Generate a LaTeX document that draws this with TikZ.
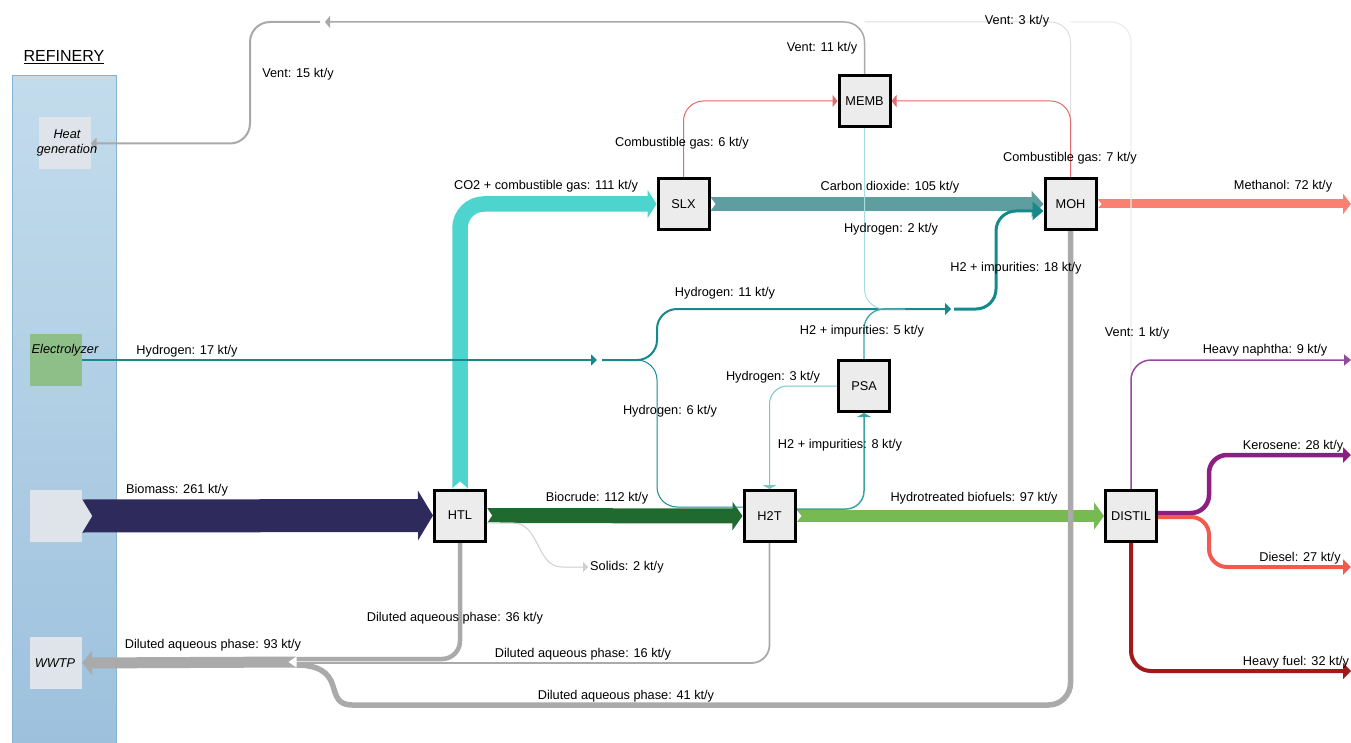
\documentclass[tikz,border=0pt]{standalone}
\usepackage{fontspec}
\setmainfont{Liberation Sans}
\usetikzlibrary{arrows.meta,calc}
\definecolor{refTop}{HTML}{C3DCEC}
\definecolor{refBot}{HTML}{9DC1DD}
\definecolor{refBorder}{HTML}{86B2D2}
\definecolor{boxGray}{HTML}{DEE4E9}
\definecolor{elecGreen}{HTML}{8FBF88}
\definecolor{procFill}{HTML}{ECECEC}
\definecolor{bioC}{HTML}{2E2A5C}
\definecolor{cyanC}{HTML}{4ED4CF}
\definecolor{co2C}{HTML}{5F9EA0}
\definecolor{methC}{HTML}{FA8072}
\definecolor{crudeC}{HTML}{216A2F}
\definecolor{htC}{HTML}{77BA52}
\definecolor{tealC}{HTML}{168A8A}
\definecolor{tealMid}{HTML}{3AA5A5}
\definecolor{tealLight}{HTML}{78C6C6}
\definecolor{cyanLight}{HTML}{A6DEE0}
\definecolor{aqC}{HTML}{AAAAAA}
\definecolor{ventC}{HTML}{A9A9A9}
\definecolor{ventLight}{HTML}{DDDDDD}
\definecolor{ventFaint}{HTML}{EDEDED}
\definecolor{combC}{HTML}{E36B6B}
\definecolor{naphC}{HTML}{934A9E}
\definecolor{keroC}{HTML}{8E1E80}
\definecolor{diesC}{HTML}{F25A50}
\definecolor{fuelC}{HTML}{A31818}
\definecolor{solC}{HTML}{CFCFCF}
\pgfdeclarelayer{back}
\pgfdeclarelayer{flows}
\pgfsetlayers{back,flows,main}
\begin{document}
\begin{tikzpicture}[x=1pt,y=-1pt,
  every node/.style={font=\fontsize{12.75}{15}\selectfont, text=black},
  procbox/.style={draw=black, line width=3pt, fill=procFill, minimum size=51pt, inner sep=0pt},
  unitbox/.style={fill=boxGray, minimum size=52pt, inner sep=0pt},
  itl/.style={font=\fontsize{12.75}{15}\selectfont\itshape, inner sep=0pt, align=center},
  lbl/.style={inner sep=0pt},
  thinflow/.style={line cap=butt, rounded corners=20pt},
]
\useasboundingbox (0,0) rectangle (1351,743);
\begin{pgfonlayer}{back}
\fill[white] (0,0) rectangle (1351,743);
\node[draw=refBorder, line width=0.8pt, top color=refTop, bottom color=refBot, minimum width=104pt, minimum height=670pt, inner sep=0pt, anchor=north west] (refinery) at (12,75) {};
\end{pgfonlayer}

% refinery units
\node[font=\fontsize{16}{18}\selectfont] (reftitle) at (64,57) {\underline{REFINERY}};
\node[unitbox] (heat) at (64.5,143.5) {};
\node[itl] (heattxt) at (67,142.5) {Heat\\generation};
\node[unitbox, fill=elecGreen] (elec) at (56,360) {};
\node[itl] (electxt) at (65,350) {Electrolyzer};
\node[unitbox] (bio) at (56,516) {};
\node[unitbox] (wwtp) at (56,663) {};
\node[itl] (wwtptxt) at (55,663) {WWTP};

% process units
\node[procbox] (memb) at (864.5,101) {MEMB};
\node[procbox] (slx) at (683.5,204) {SLX};
\node[procbox] (moh) at (1070.5,204) {MOH};
\node[procbox] (psa) at (864,386) {PSA};
\node[procbox] (htl) at (460,515.5) {HTL};
\node[procbox] (h2t) at (769.5,516) {H2T};
\node[procbox] (distil) at (1131,516) {DISTIL};

% free ends
\coordinate (methend) at (1351,204);
\coordinate (h17end) at (597,360);
\coordinate (hsplit) at (602,360);
\coordinate (h11end) at (951,309);
\coordinate (h18start) at (954,309);
\coordinate (hmerge) at (905,309);
\coordinate (vtip) at (325,22);
\coordinate (vrest) at (320,22);
\coordinate (wwin) at (296,662);
\coordinate (solend) at (588,567);
\coordinate (naphend) at (1351,360);
\coordinate (keroend) at (1351,455);
\coordinate (diesend) at (1351,567);
\coordinate (fuelend) at (1351,671);

\begin{pgfonlayer}{flows}
% thick flows
\draw[bioC, line width=33pt, -{Triangle[length=15pt,width=49pt]}] (bio.east) -- (htl.west);
\fill[boxGray] (bio.east) ++(0,-16.5) -- ++(10,16.5) -- ++(-10,16.5) -- cycle;
\draw[cyanC, line width=15.5pt, rounded corners=24pt, -{Triangle[length=9pt,width=28pt]}] (htl.north) |- (slx.west);
\fill[white] (htl.north) ++(-7.75,0) -- ++(7.75,-7) -- ++(7.75,7) -- cycle;
\draw[co2C, line width=13.5pt, -{Triangle[length=12pt,width=26pt]}] (slx.east) -- (moh.west);
\fill[white] (slx.east) ++(0,-6.75) -- ++(5,6.75) -- ++(-5,6.75) -- cycle;
\draw[methC, line width=9pt, -{Triangle[length=8pt,width=20pt]}] (moh.east) -- (methend);
\fill[white] (moh.east) ++(0,-4.5) -- ++(4,4.5) -- ++(-4,4.5) -- cycle;
\draw[crudeC, line width=15pt, -{Triangle[length=10pt,width=28pt]}] (htl.east) -- (h2t.west);
\fill[white] (htl.east) ++(0,-7.5) -- ++(5,7.5) -- ++(-5,7.5) -- cycle;
\draw[htC, line width=12pt, -{Triangle[length=10pt,width=27pt]}] (h2t.east) -- (distil.west);
\fill[white] (h2t.east) ++(0,-6) -- ++(5,6) -- ++(-5,6) -- cycle;

% aqueous phase
\draw[aqC, line width=4.5pt, rounded corners=18pt] (htl.south) |- ([yshift=3pt]wwin);
\draw[aqC, line width=1.8pt, rounded corners=18pt] (h2t.south) |- ([yshift=-1pt]wwin);
\draw[aqC, line width=5.5pt, rounded corners=22pt] (moh.south) |- (352,705);
\draw[aqC, line width=5.5pt] (352,705) .. controls (338,705) and (336,696) .. (333,686) .. controls (329,672) and (318,665) .. ([yshift=-3pt]wwin);
\draw[aqC, line width=11pt, -{Triangle[length=10pt,width=24pt]}] (wwin) -- (wwtp.east);
\fill[white] (wwin) ++(0.5,-5.5) -- ++(-8,5.5) -- ++(8,5.5) -- cycle;

% solids
\draw[solC, line width=1pt, -{Triangle[length=5pt,width=10pt]}] ([yshift=-7pt]htl.east) -- (513,523) .. controls (540,523) and (536,567) .. (562,567) -- (solend);

% hydrogen network
\draw[tealC, line width=2pt, -{Triangle[length=6pt,width=11pt]}] (elec.east) -- (h17end);
\draw[tealC, line width=2pt, thinflow, -{Triangle[length=6pt,width=12pt]}] (hsplit) -| (657,309) -- (h11end);
\draw[tealC, line width=1pt, thinflow] (hsplit) -| (657,507) -- ([yshift=9pt]h2t.west);
\draw[tealC, line width=3pt, thinflow, -{Triangle[length=11pt,width=18pt]}] (h18start) -| (996,211) -- ([yshift=-7pt]moh.west);
\draw[cyanLight, line width=1pt, thinflow] (memb.south) |- (hmerge);
\draw[tealMid, line width=1.3pt, thinflow] (psa.north) |- (hmerge);
\draw[tealLight, line width=1pt, rounded corners=18pt, -{Triangle[length=4pt,width=14pt]}] (psa.west) -| (h2t.north);
\draw[tealMid, line width=1.5pt, rounded corners=18pt, -{Triangle[length=4pt,width=14pt]}] ([yshift=7pt]h2t.east) -| (psa.south);

% vents
\draw[ventFaint, line width=1.2pt, thinflow] (distil.north) |- (moh.north |- vtip);
\draw[ventLight, line width=1pt, thinflow] (moh.north) |- (memb.north |- vtip);
\draw[ventC, line width=1.5pt, thinflow, -{Triangle[length=5pt,width=12pt]}] (memb.north) |- (vtip);
\draw[ventC, line width=2pt, thinflow, -{Triangle[length=6pt,width=12pt]}] (vrest) -| (250,143.5) -- (heat.east);

% combustible gas
\draw[combC, line width=1pt, thinflow, -{Triangle[length=5pt,width=12pt]}] (slx.north) |- (memb.west);
\draw[combC, line width=1pt, thinflow, -{Triangle[length=5pt,width=12pt]}] (moh.north) |- (memb.east);

% distillation products
\draw[naphC, line width=1.5pt, thinflow, -{Triangle[length=7pt,width=11pt]}] (distil.north) |- (naphend);
\draw[keroC, line width=4.5pt, rounded corners=18pt, -{Triangle[length=8pt,width=15pt]}] ([yshift=3pt]distil.east) -| (1209,455) -- (keroend);
\draw[diesC, line width=4pt, rounded corners=18pt, -{Triangle[length=8pt,width=15pt]}] ([yshift=-1pt]distil.east) -| (1209,567) -- (diesend);
\draw[fuelC, line width=4pt, thinflow, -{Triangle[length=8pt,width=16pt]}] (distil.south) |- (fuelend);
\end{pgfonlayer}

% labels
\node[lbl] (l1) at (298,74) {Vent: 15 kt/y};
\node[lbl] (l2) at (822,48) {Vent: 11 kt/y};
\node[lbl] (l3) at (1017,21) {Vent: 3 kt/y};
\node[lbl] (l4) at (682,143) {Combustible gas: 6 kt/y};
\node[lbl] (l5) at (1070,158) {Combustible gas: 7 kt/y};
\node[lbl] (l6) at (546,186) {CO2 + combustible gas: 111 kt/y};
\node[lbl] (l7) at (890,187) {Carbon dioxide: 105 kt/y};
\node[lbl] (l8) at (1283,186) {Methanol: 72 kt/y};
\node[lbl] (l9) at (891,229) {Hydrogen: 2 kt/y};
\node[lbl] (l10) at (1016,268) {H2 + impurities: 18 kt/y};
\node[lbl] (l11) at (725,293) {Hydrogen: 11 kt/y};
\node[lbl] (l12) at (862,331) {H2 + impurities: 5 kt/y};
\node[lbl] (l13) at (1137,333) {Vent: 1 kt/y};
\node[lbl] (l14) at (187,351) {Hydrogen: 17 kt/y};
\node[lbl] (l15) at (1265,350) {Heavy naphtha: 9 kt/y};
\node[lbl] (l16) at (773,377) {Hydrogen: 3 kt/y};
\node[lbl] (l17) at (670,411) {Hydrogen: 6 kt/y};
\node[lbl] (l18) at (840,445) {H2 + impurities: 8 kt/y};
\node[lbl] (l19) at (1293,446) {Kerosene: 28 kt/y};
\node[lbl] (l20) at (177,490) {Biomass: 261 kt/y};
\node[lbl] (l21) at (597,498) {Biocrude: 112 kt/y};
\node[lbl] (l22) at (974,498) {Hydrotreated biofuels: 97 kt/y};
\node[lbl] (l23) at (1300,558) {Diesel: 27 kt/y};
\node[lbl, anchor=west] (l24) at (590,567) {Solids: 2 kt/y};
\node[lbl] (l25) at (455,618) {Diluted aqueous phase: 36 kt/y};
\node[lbl] (l26) at (213,645) {Diluted aqueous phase: 93 kt/y};
\node[lbl] (l27) at (583,654) {Diluted aqueous phase: 16 kt/y};
\node[lbl] (l28) at (1296,662) {Heavy fuel: 32 kt/y};
\node[lbl] (l29) at (626,696) {Diluted aqueous phase: 41 kt/y};
\end{tikzpicture}
\end{document}
